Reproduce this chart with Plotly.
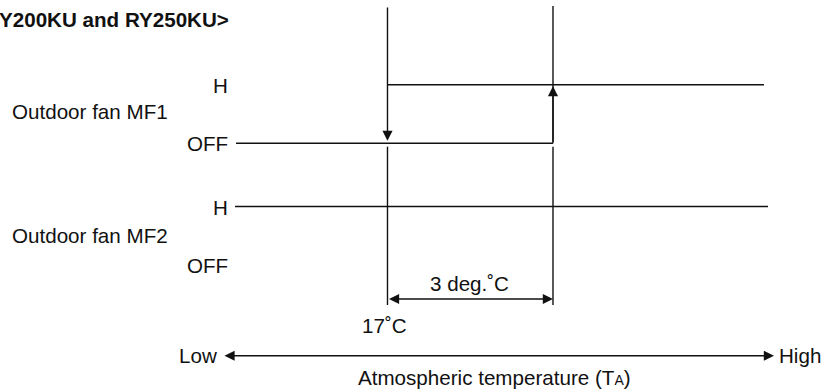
import plotly.graph_objects as go

# ---- data ----
fan_names = ["Outdoor fan MF1", "Outdoor fan MF2"]
fan_states = ["H", "OFF"]
switch_temps = [17, 20]          # °C : MF1 off when falling to 17, back to H at 17+3
hysteresis_label = "3 deg.˚C"
temp_label = "17˚C"
scale_labels = ["Low", "High"]
x_title = "Atmospheric temperature (T<span style='font-size:14px'>A</span>)"
title = "Y200KU and RY250KU>"

# ---- layout (pixel rows on a 390-px tall canvas, x in °C) ----
X_RANGE = [9.976, 24.985]
ROW = {"MF1_H": 84.7, "MF1_OFF": 143.3, "MF2_H": 206.5, "MF2_OFF": 265.0}
FONT = dict(family="Liberation Sans, Arial, sans-serif", size=20.6, color="#111")
LINE = dict(color="#111", width=1.4)

t_lo, t_hi = switch_temps
fig = go.Figure()
fig.add_trace(go.Scatter(x=[], y=[]))

shapes = []
def seg(x0, y0, x1, y1):
    shapes.append(dict(type="line", xref="x", yref="y", x0=x0, y0=y0, x1=x1, y1=y1, line=LINE))

# MF1 H level (from 17 to right)
seg(t_lo, ROW["MF1_H"], 23.824, ROW["MF1_H"])
# MF1 OFF level (from left to 20)
seg(14.254, ROW["MF1_OFF"], t_hi, ROW["MF1_OFF"])
# MF2 H level
seg(14.236, ROW["MF2_H"], 23.897, ROW["MF2_H"])
# verticals upper part
seg(t_hi, 6, t_hi, ROW["MF1_OFF"])
# verticals lower part
for t in switch_temps:
    seg(t, 146.7, t, 305)

ann = []
def arrow(x_tip, y_tip, x_tail, y_tail, both=False):
    ann.append(dict(x=x_tip, y=y_tip, ax=x_tail, ay=y_tail, xref="x", yref="y",
                    axref="x", ayref="y", text="", showarrow=True, arrowhead=2,
                    arrowsize=1.45, arrowwidth=1.4, arrowcolor="#111", standoff=0,
                    startstandoff=0, arrowside="end+start" if both else "end",
                    startarrowhead=2, startarrowsize=1.45))

# falling: MF1 H -> OFF at 17
arrow(t_lo, ROW["MF1_OFF"] - 2.5, t_lo, 6)
# rising: MF1 OFF -> H at 20
arrow(t_hi, ROW["MF1_H"] + 1.5, t_hi, ROW["MF1_OFF"])
# hysteresis dimension
arrow(t_hi, 299, t_lo, 299, both=True)
# Low <-> High scale
arrow(24.006, 355.7, 14.018, 355.7, both=True)

def text(x, y, s, xanchor="center", xref="x", font=FONT):
    ann.append(dict(x=x, y=y, xref=xref, yref="y", text=s, showarrow=False,
                    xanchor=xanchor, yanchor="middle", font=font))

for name, y in zip(fan_names, [111.7, 235.5]):
    text(0.0125, y, name, xanchor="left", xref="paper")
for st, key in zip(fan_states * 2, ["MF1_H", "MF1_OFF", "MF2_H", "MF2_OFF"]):
    text(14.14, ROW[key] + 0.5, st, xanchor="right")

text((t_lo + t_hi) / 2 - 0.02, 283.5, hysteresis_label)
text(t_lo - 0.05, 325.7, temp_label)
text(13.95, 355.5, scale_labels[0], xanchor="right")
text(24.06, 355.5, scale_labels[1], xanchor="left")
text(18.94, 377, x_title)
text(-0.004, 19.5, "<b>" + title + "</b>", xanchor="left", xref="paper",
     font=dict(family="Liberation Sans, Arial, sans-serif", size=20.6, color="#111"))

fig.update_layout(
    width=828, height=390, margin=dict(l=0, r=0, t=0, b=0),
    paper_bgcolor="white", plot_bgcolor="white", showlegend=False,
    xaxis=dict(range=X_RANGE, visible=False, fixedrange=True),
    yaxis=dict(range=[390, 0], visible=False, fixedrange=True),
    shapes=shapes, annotations=ann,
)
fig.write_html("out.html", config={"displayModeBar": False},
               post_script="document.body.style.margin='0';document.body.style.overflow='hidden';")
